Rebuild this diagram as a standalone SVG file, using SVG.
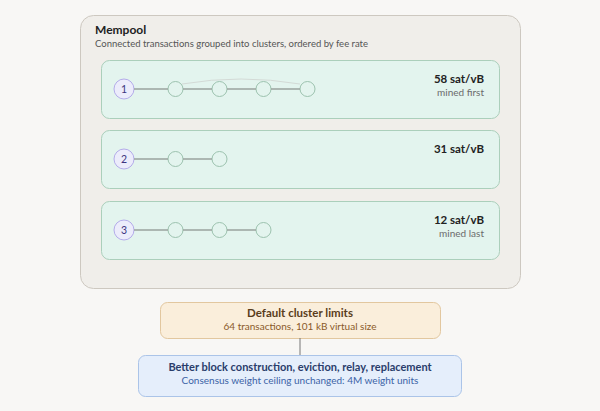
<svg xmlns="http://www.w3.org/2000/svg" width="600" height="411" viewBox="0 0 600 411">
<style>
text{font-family:Lato,"Open Sans","Liberation Sans",sans-serif}
.outer{fill:#f0eeea;stroke:#cdc8c0;stroke-width:1}
.cl{fill:#e3f4ee;stroke:#abcfbb;stroke-width:1}
.root{fill:#ececfb;stroke:#b4acea;stroke-width:1}
.tx{fill:#e3f4ee;stroke:#9cc2ae;stroke-width:1}
.num{font-size:10.5px;fill:#3d3580;text-anchor:middle}
.rate{font-size:11.5px;font-weight:700;fill:#222;text-anchor:end}
.note{font-size:10px;fill:#6b6b6b;text-anchor:end}
.edge{stroke:#9aa39e;stroke-width:1.5;fill:none}
.arc{stroke:#d3dad6;stroke-width:1;fill:none}
.link{stroke:#777;stroke-width:1;fill:none}
</style>
<rect width="600" height="411" fill="#f8f7f5"/>
<g id="mempool">
<rect class="outer" x="80.5" y="15.5" width="440" height="273" rx="13"/>
<text x="95" y="34" font-size="12" font-weight="700" fill="#222">Mempool</text>
<text x="95" y="47" font-size="9.5" fill="#555">Connected transactions grouped into clusters, ordered by fee rate</text>
</g>
<g id="cluster1">
<rect class="cl" x="101.5" y="60.5" width="398" height="58" rx="8"/>
<circle class="root" cx="124" cy="89" r="10"/>
<text class="num" x="124" y="92.5">1</text>
<circle class="tx" cx="175.5" cy="89" r="7.5"/>
<circle class="tx" cx="219.5" cy="89" r="7.5"/>
<circle class="tx" cx="263.5" cy="89" r="7.5"/>
<circle class="tx" cx="307.5" cy="89" r="7.5"/>
<text class="rate" x="484" y="83">58 sat/vB</text>
<text class="note" x="484" y="96">mined first</text>
</g>
<g id="cluster2">
<rect class="cl" x="101.5" y="130.5" width="398" height="58" rx="8"/>
<circle class="root" cx="124" cy="159" r="10"/>
<text class="num" x="124" y="162.5">2</text>
<circle class="tx" cx="175.5" cy="159" r="7.5"/>
<circle class="tx" cx="219.5" cy="159" r="7.5"/>
<text class="rate" x="484" y="153">31 sat/vB</text>
</g>
<g id="cluster3">
<rect class="cl" x="101.5" y="201.5" width="398" height="58" rx="8"/>
<circle class="root" cx="124" cy="230" r="10"/>
<text class="num" x="124" y="233.5">3</text>
<circle class="tx" cx="175.5" cy="230" r="7.5"/>
<circle class="tx" cx="219.5" cy="230" r="7.5"/>
<circle class="tx" cx="263.5" cy="230" r="7.5"/>
<text class="rate" x="484" y="224">12 sat/vB</text>
<text class="note" x="484" y="237">mined last</text>
</g>
<g id="limits">
<rect x="160.5" y="302.5" width="280" height="36" rx="7" fill="#faeedb" stroke="#e2c79f"/>
<text x="300" y="317" font-size="11.5" font-weight="700" fill="#5a3d1c" text-anchor="middle">Default cluster limits</text>
<text x="300" y="330" font-size="10" fill="#8a5a2a" text-anchor="middle">64 transactions, 101 kB virtual size</text>
</g>
<g id="outcome">
<rect x="138.5" y="355.5" width="323" height="41" rx="7" fill="#e5eefb" stroke="#abc4e8"/>
<text x="300" y="371" font-size="11" font-weight="700" fill="#2a3d6b" text-anchor="middle">Better block construction, eviction, relay, replacement</text>
<text x="300" y="384" font-size="10" fill="#3b63a6" text-anchor="middle">Consensus weight ceiling unchanged: 4M weight units</text>
</g>
<g id="connectors">
<line class="edge" x1="134" y1="89" x2="168" y2="89"/>
<line class="edge" x1="183" y1="89" x2="212" y2="89"/>
<line class="edge" x1="227" y1="89" x2="256" y2="89"/>
<line class="edge" x1="271" y1="89" x2="300" y2="89"/>
<path class="arc" d="M182,84 Q241,74 300,84"/>
<line class="edge" x1="134" y1="159" x2="168" y2="159"/>
<line class="edge" x1="183" y1="159" x2="212" y2="159"/>
<line class="edge" x1="134" y1="230" x2="168" y2="230"/>
<line class="edge" x1="183" y1="230" x2="212" y2="230"/>
<line class="edge" x1="227" y1="230" x2="256" y2="230"/>
<line class="link" x1="300" y1="338" x2="300" y2="355"/>
</g>
</svg>
